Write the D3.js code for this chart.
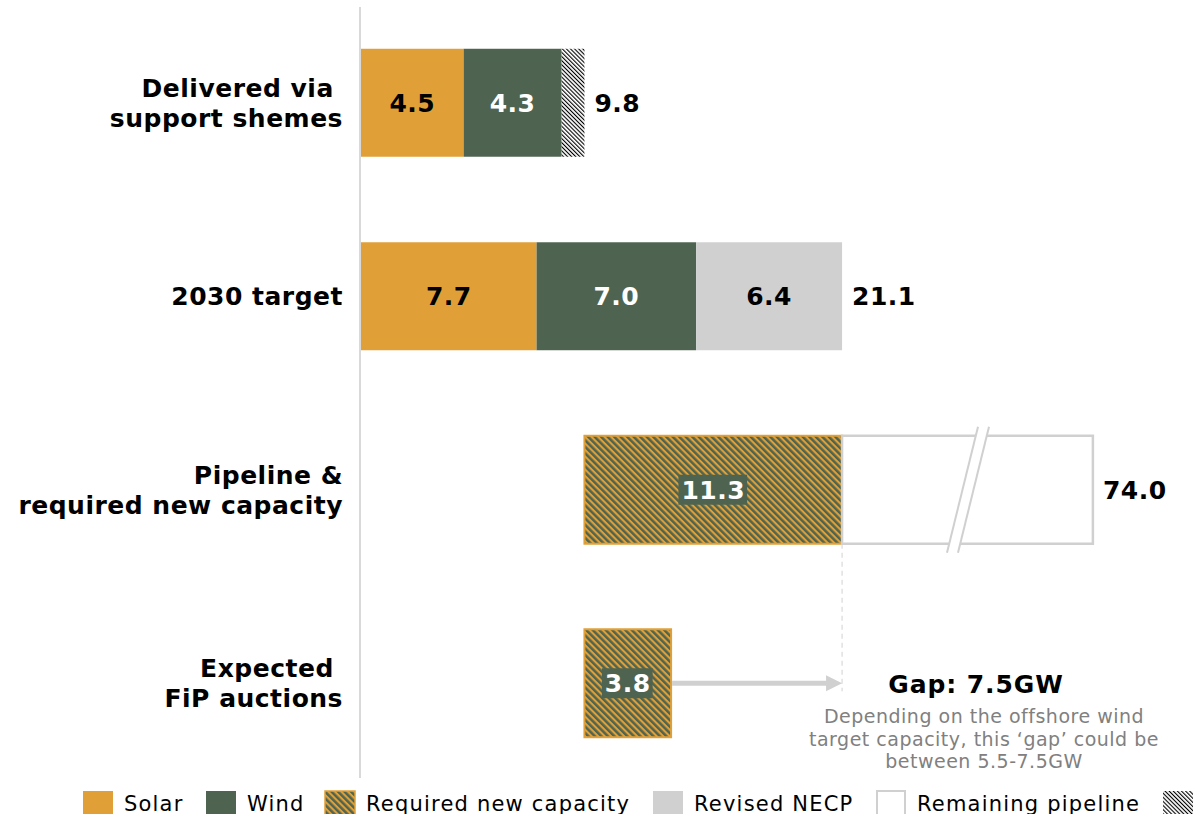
<!DOCTYPE html>
<html><head><meta charset="utf-8">
<script src="https://cdn.jsdelivr.net/npm/d3@7"></script>
<style>
html,body{margin:0;padding:0;background:#fff;}
svg{display:block;font-family:"DejaVu Sans",Verdana,sans-serif;}
</style></head>
<body><svg id="chart" width="1194" height="814"></svg>
<script>
// ---------- data ----------
const categories = ["Delivered via support shemes", "2030 target", "Pipeline & required new capacity", "Expected FiP auctions"];
const categoryLines = [["Delivered via ", "support shemes"], ["2030 target"], ["Pipeline &", "required new capacity"], ["Expected ", "FiP auctions"]];
const solar    = [4.5, 7.7, null, null];
const wind     = [4.3, 7.0, null, null];
const other    = [1.0, null, null, null];
const necp     = [null, 6.4, null, null];
const required = [null, null, 11.3, 3.8];
const requiredStart = [null, null, 9.8, 9.8];
const totals   = [9.8, 21.1, 74.0, null];
const remainingPipeline = [null, null, 52.9, null];
const brokenDisplayEnd = 32.1;   // where the broken "remaining pipeline" bar is cut
const gapTitle = "Gap: 7.5GW";
const gapNote = ["Depending on the offshore wind", "target capacity, this \u2018gap\u2019 could be", "between 5.5-7.5GW"];
const legendItems = [
  {key:"solar", label:"Solar"},
  {key:"wind", label:"Wind"},
  {key:"required", label:"Required new capacity"},
  {key:"necp", label:"Revised NECP"},
  {key:"remaining", label:"Remaining pipeline"},
  {key:"other", label:""}
];

// ---------- styles ----------
const C = {solar:"#E1A037", wind:"#4F6450", necp:"#D0D0D0", axis:"#D9D9D9", outline:"#D0D0D0", grey:"#808080"};
const FS = 25, LS = 0.5;

const svg = d3.select("#chart");
const defs = svg.append("defs");
// required-capacity stripes
const p1 = defs.append("pattern").attr("id","reqHatch").attr("patternUnits","userSpaceOnUse")
  .attr("width",4.6).attr("height",10).attr("patternTransform","rotate(-45)");
p1.append("rect").attr("width",4.6).attr("height",10).attr("fill",C.solar);
p1.append("rect").attr("width",2.5).attr("height",10).attr("fill",C.wind);
// black/white fine hatch
const p2 = defs.append("pattern").attr("id","bwHatch").attr("patternUnits","userSpaceOnUse")
  .attr("width",2.9).attr("height",10).attr("patternTransform","rotate(-45)");
p2.append("rect").attr("width",2.9).attr("height",10).attr("fill","#fff");
p2.append("rect").attr("width",1.1).attr("height",10).attr("fill","#000");

const x = d3.scaleLinear().domain([0, 33]).range([361, 361 + 33*22.8]);
const y = d3.scaleBand().domain(categories).range([6, 780]).paddingInner(0.442).paddingOuter(0.221);
const bh = y.bandwidth();
const cy = i => y(categories[i]) + bh/2;

// axis line (category axis, no ticks)
const yAxis = d3.axisLeft(y).tickSize(0).tickFormat("");
const axG = svg.append("g").attr("transform","translate(360,0)").call(yAxis);
axG.select(".domain").attr("stroke",C.axis).attr("stroke-width",2).attr("d","M0,7V778");

// category labels
categories.forEach((c,i)=>{
  const lines = categoryLines[i];
  const t = svg.append("text").attr("text-anchor","end").attr("font-weight","bold")
    .attr("font-size",FS).attr("letter-spacing",LS).attr("fill","#000").style("white-space","pre");
  const base = lines.length===1 ? cy(i)+9 : cy(i)-6;
  lines.forEach((l,j)=>t.append("tspan").attr("x",343).attr("y",base + j*30).text(l));
});

const gBars = svg.append("g");
function seg(i, start, val, fill, stroke){
  return gBars.append("rect").attr("x",x(start)).attr("y",y(categories[i]))
    .attr("width",x(start+val)-x(start)).attr("height",bh).attr("fill",fill)
    .attr("stroke",stroke||"none");
}
function valLabel(xc, yc, txt, col){
  return svg.append("text").attr("x",xc).attr("y",yc+9).attr("text-anchor","middle")
    .attr("font-weight","bold").attr("font-size",FS).attr("letter-spacing",LS).attr("fill",col).text(txt);
}

// stacked bars
categories.forEach((c,i)=>{
  let acc = 0;
  if(solar[i]!=null){ seg(i,acc,solar[i],C.solar); valLabel((x(acc)+x(acc+solar[i]))/2, cy(i), solar[i].toFixed(1), "#000"); acc+=solar[i]; }
  if(wind[i]!=null){ seg(i,acc,wind[i],C.wind); valLabel((x(acc)+x(acc+wind[i]))/2, cy(i), wind[i].toFixed(1), "#fff"); acc+=wind[i]; }
  if(other[i]!=null){ seg(i,acc,other[i],"url(#bwHatch)"); acc+=other[i]; }
  if(necp[i]!=null){ seg(i,acc,necp[i],C.necp); valLabel((x(acc)+x(acc+necp[i]))/2, cy(i), necp[i].toFixed(1), "#000"); acc+=necp[i]; }
});

// dashed reference line at end of required bar
const reqEnd = requiredStart[2] + required[2];
svg.append("line").attr("x1",x(reqEnd)).attr("x2",x(reqEnd))
  .attr("y1",y(categories[2])+bh).attr("y2",cy(3)+8)
  .attr("stroke",C.axis).attr("stroke-width",1.2).attr("stroke-dasharray","5,4");

// remaining pipeline (broken bar)
const rem0 = x(reqEnd), rem1 = x(brokenDisplayEnd);
const ry0 = y(categories[2]), ry1 = ry0 + bh;
svg.append("rect").attr("x",rem0).attr("y",ry0).attr("width",rem1-rem0).attr("height",bh)
  .attr("fill","#fff").attr("stroke",C.outline).attr("stroke-width",2.5);
// break marks
const bx = 947;
svg.append("polygon").attr("points",`${bx},${ry1+9} ${bx+31},${ry0-9} ${bx+42},${ry0-9} ${bx+11},${ry1+9}`).attr("fill","#fff");
svg.append("line").attr("x1",bx).attr("y1",ry1+9).attr("x2",bx+31).attr("y2",ry0-9).attr("stroke",C.outline).attr("stroke-width",2);
svg.append("line").attr("x1",bx+11).attr("y1",ry1+9).attr("x2",bx+42).attr("y2",ry0-9).attr("stroke",C.outline).attr("stroke-width",2);

// required capacity bars
[2,3].forEach(i=>{
  const r = seg(i, requiredStart[i], required[i], "url(#reqHatch)", C.solar);
  r.attr("stroke-width",2).attr("x",x(requiredStart[i])).attr("width",x(requiredStart[i]+required[i])-x(requiredStart[i]));
  const xc = (x(requiredStart[i])+x(requiredStart[i]+required[i]))/2;
  const t = valLabel(xc, cy(i), required[i].toFixed(1), "#fff");
  const bb = t.node().getBBox();
  svg.insert("rect", function(){return t.node();}).attr("x",bb.x-3).attr("y",cy(i)-15).attr("width",bb.width+5).attr("height",30).attr("fill",C.wind);
});

// totals
totals.forEach((v,i)=>{
  if(v==null) return;
  const end = (i===2) ? rem1 : x(v);
  svg.append("text").attr("x",end+10).attr("y",cy(i)+9).attr("font-weight","bold").attr("font-size",FS)
    .attr("letter-spacing",LS).attr("fill","#000").text(v.toFixed(1));
});

// arrow from FiP to gap
const ax0 = x(requiredStart[3]+required[3]) + 1, ax1 = x(reqEnd);
const ay = cy(3);
svg.append("line").attr("x1",ax0).attr("x2",ax1-14).attr("y1",ay).attr("y2",ay).attr("stroke",C.outline).attr("stroke-width",5);
svg.append("path").attr("d",`M${ax1},${ay} L${ax1-16},${ay-8} L${ax1-16},${ay+8} Z`).attr("fill",C.outline);

// gap annotation
svg.append("text").attr("x",976).attr("y",693).attr("text-anchor","middle").attr("font-weight","bold")
  .attr("font-size",FS).attr("letter-spacing",0.9).attr("fill","#000").text(gapTitle);
gapNote.forEach((l,j)=>{
  svg.append("text").attr("x",984).attr("y",723+j*22.5).attr("text-anchor","middle")
    .attr("font-size",19).attr("letter-spacing",0.5).attr("fill",C.grey).text(l);
});

// legend
const legX = {solar:83, wind:206, required:325, necp:653, remaining:876, other:1163};
const legFill = {solar:C.solar, wind:C.wind, required:"url(#reqHatch)", necp:C.necp, remaining:"#fff", other:"url(#bwHatch)"};
const lg = svg.append("g");
legendItems.forEach(d=>{
  const r = lg.append("rect").attr("x",legX[d.key]).attr("y",791).attr("width",30).attr("height",24).attr("fill",legFill[d.key]);
  if(d.key==="required") r.attr("stroke",C.solar).attr("stroke-width",1.5);
  if(d.key==="remaining") r.attr("stroke",C.outline).attr("stroke-width",2).attr("x",legX[d.key]+1).attr("width",28);
  if(d.label) lg.append("text").attr("x",legX[d.key]+41).attr("y",811).attr("font-size",21).attr("letter-spacing",1.2)
    .attr("fill","#000").text(d.label);
});
</script></body></html>
